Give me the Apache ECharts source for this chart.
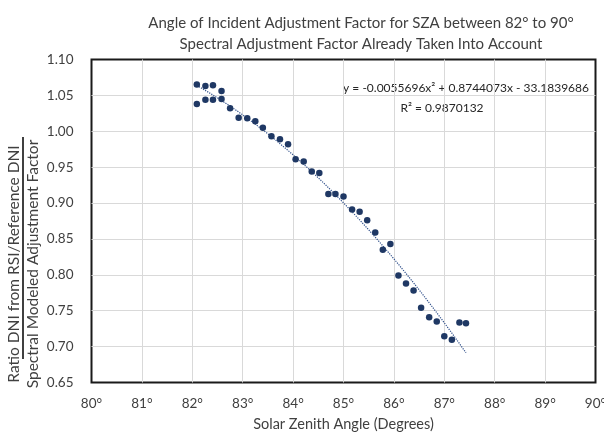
<!DOCTYPE html>
<html>
<head>
    <meta charset="UTF-8">
    <title>Angle of Incident Adjustment Factor</title>
    <script src="https://cdn.jsdelivr.net/npm/echarts@6/dist/echarts.min.js"></script>
    <style>
        html, body { margin: 0; padding: 0; background: #fff; }
        #chart { width: 604px; height: 436px; }
    </style>
</head>
<body>
    <div id="chart"></div>
    <script>
        // measured points (degrees, ratio)
        var zenith = [82.09, 82.09, 82.26, 82.26, 82.41, 82.41, 82.58, 82.58, 82.75, 82.92,
            83.09, 83.25, 83.40, 83.57, 83.74, 83.90, 84.05, 84.21, 84.37, 84.52,
            84.70, 84.84, 85.00, 85.17, 85.32, 85.47, 85.63, 85.78, 85.93, 86.09,
            86.24, 86.39, 86.54, 86.70, 86.85, 87.00, 87.15, 87.30, 87.43];
        var ratio = [1.065, 1.038, 1.063, 1.044, 1.064, 1.044, 1.056, 1.045, 1.032, 1.019,
            1.018, 1.014, 1.005, 0.993, 0.989, 0.982, 0.961, 0.958, 0.944, 0.942,
            0.9125, 0.9125, 0.909, 0.891, 0.888, 0.876, 0.859, 0.835, 0.843, 0.799,
            0.788, 0.778, 0.754, 0.741, 0.735, 0.7145, 0.7095, 0.7336, 0.7326];
        // trendline printed on the chart: a*x^2 + b*x + c
        var trendCoef = [-0.0055696, 0.8744073, -33.1839686];
        var rSquared = '0.9870132';

        var titleLines = ['Angle of Incident Adjustment Factor for SZA between 82\u00b0 to 90\u00b0',
            'Spectral Adjustment Factor Already Taken Into Account'];
        var yTitleTop = 'Ratio DNI from RSI/Reference DNI';
        var yTitleBottom = 'Spectral Modeled Adjustment Factor';
        var xTitle = 'Solar Zenith Angle (Degrees)';

        var FONT = 'Lato';
        var TXT = '#404040';
        var DOT = '#1f3864';

        var points = zenith.map(function (x, i) { return [x, ratio[i]]; });
        // trendline evaluated at the measured angles
        var trendX = zenith.filter(function (x, i) { return zenith.indexOf(x) === i; });
        var trend = trendX.map(function (x) {
            return [x, trendCoef[0] * x * x + trendCoef[1] * x + trendCoef[2]];
        });
        var eqText = 'y = ' + trendCoef[0] + 'x\u00b2 + ' + trendCoef[1] + 'x - ' + Math.abs(trendCoef[2]);

        var option = {
            backgroundColor: '#fff',
            animation: false,
            title: {
                text: titleLines.join('\n'),
                left: 356,
                top: 8,
                textAlign: 'center',
                textStyle: { fontFamily: FONT, fontSize: 15, fontWeight: 'normal', color: TXT, lineHeight: 21 }
            },
            grid: {
                left: 91.5, top: 59.5, width: 504, height: 323,
                outerBoundsMode: 'none', containLabel: false,
                show: true, borderColor: '#1a1a1a', borderWidth: 2
            },
            xAxis: {
                type: 'value', min: 80, max: 90, interval: 1,
                name: xTitle, nameLocation: 'middle', nameGap: 34,
                nameTextStyle: { fontFamily: FONT, fontSize: 14.5, color: TXT },
                axisLine: { show: false }, axisTick: { show: false },
                axisLabel: { fontFamily: FONT, fontSize: 13.5, color: TXT, margin: 14, formatter: '{value}\u00b0' },
                splitLine: { show: true, showMinLine: false, showMaxLine: false, lineStyle: { color: '#d9d9d9', width: 1 } }
            },
            yAxis: {
                type: 'value', min: 0.65, max: 1.10, interval: 0.05,
                axisLine: { show: false }, axisTick: { show: false },
                axisLabel: {
                    fontFamily: FONT, fontSize: 13.5, color: TXT, margin: 18,
                    formatter: function (v) { return v.toFixed(2); }
                },
                splitLine: { show: true, showMinLine: false, showMaxLine: false, lineStyle: { color: '#d9d9d9', width: 1 } }
            },
            graphic: [
                {
                    type: 'group', x: 23, y: 264, rotation: Math.PI / 2,
                    children: [
                        { type: 'text', x: 0, y: -9, style: { text: yTitleTop, fontFamily: FONT, fontSize: 15.5, fill: TXT, align: 'center', verticalAlign: 'middle' } },
                        { type: 'line', shape: { x1: -95, y1: 0, x2: 127, y2: 0 }, style: { stroke: '#000', lineWidth: 1.5 } },
                        { type: 'text', x: 0, y: 10, style: { text: yTitleBottom, fontFamily: FONT, fontSize: 15.5, fill: TXT, align: 'center', verticalAlign: 'middle' } }
                    ]
                },
                { type: 'text', x: 589, y: 88, style: { text: eqText, fontFamily: FONT, fontSize: 12, fill: '#262626', align: 'right', verticalAlign: 'middle' } },
                { type: 'text', x: 442, y: 108, style: { text: 'R\u00b2 = ' + rSquared, fontFamily: FONT, fontSize: 12, fill: '#262626', align: 'center', verticalAlign: 'middle' } }
            ],
            series: [
                {
                    type: 'line', data: trend, showSymbol: false, symbol: 'none', silent: true,
                    lineStyle: { color: '#2f4f8a', width: 1.2, type: 'dotted' }, z: 1
                },
                {
                    type: 'scatter', data: points, symbolSize: 6.5,
                    itemStyle: { color: DOT, opacity: 1 }, z: 2
                }
            ]
        };

        var myChart = echarts.init(document.getElementById('chart'), null, { renderer: 'canvas' });
        myChart.setOption(option);
    </script>
</body>
</html>
